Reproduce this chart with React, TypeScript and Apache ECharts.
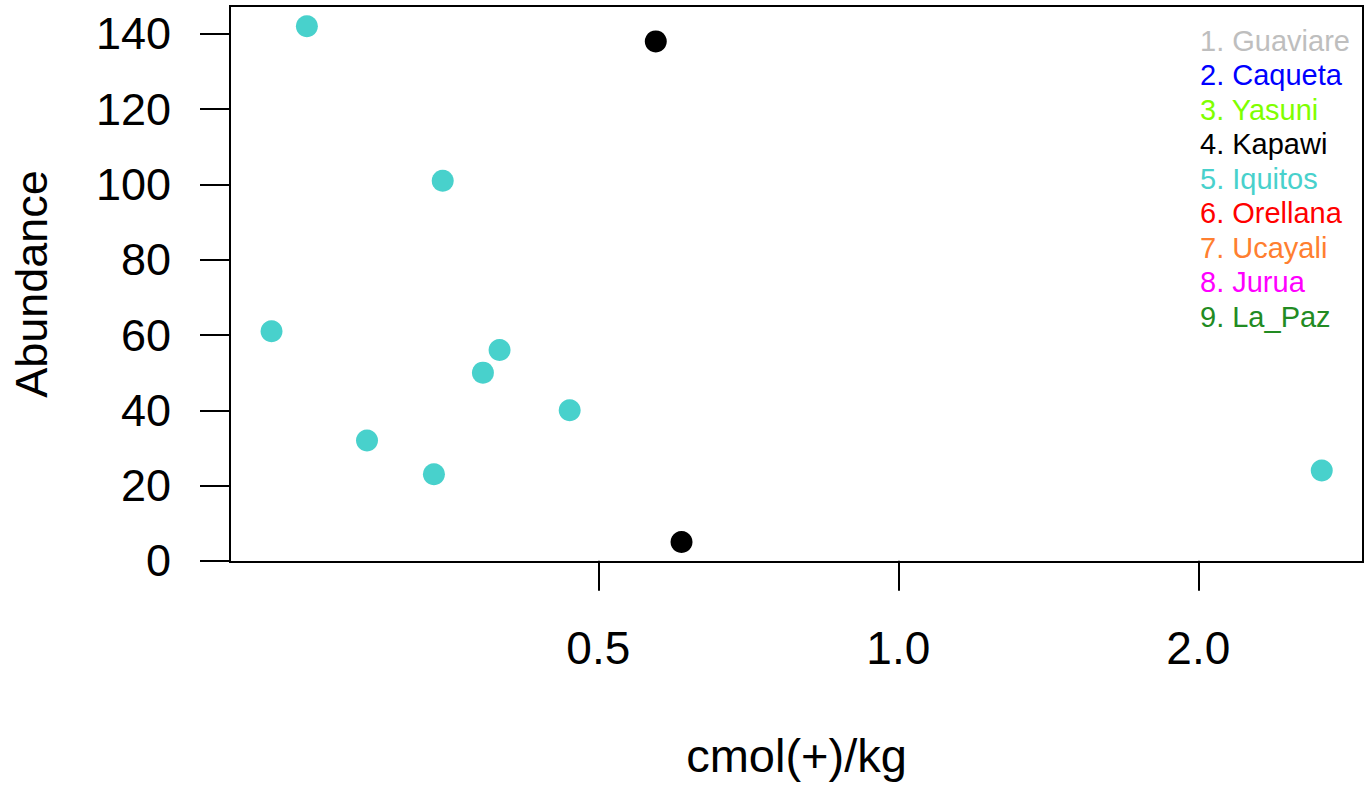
import React, { useEffect, useRef } from "react";
import * as echarts from "echarts";

// Data (x on log scale, cmol(+)/kg; y = Abundance)
const iquitosX = [0.255, 0.349, 0.235, 0.293, 0.342, 0.383, 0.398, 0.468, 2.66];
const iquitosY = [142, 101, 61, 32, 23, 50, 56, 40, 24];
const kapawiX = [0.571, 0.606];
const kapawiY = [138, 5];

const siteNames = [
  "1. Guaviare",
  "2. Caqueta",
  "3. Yasuni",
  "4. Kapawi",
  "5. Iquitos",
  "6. Orellana",
  "7. Ucayali",
  "8. Jurua",
  "9. La_Paz",
];
const siteColors = [
  "#BEBEBE",
  "#0000FF",
  "#7FFF00",
  "#000000",
  "#48D1CC",
  "#FF0000",
  "#FF7F30",
  "#FF00FF",
  "#228B22",
];

const xTicks = [0.5, 1, 2];
const yTicks = [0, 20, 40, 60, 80, 100, 120, 140];

const FONT = "'Liberation Sans', Arial, Helvetica, sans-serif";

export default function App() {
  const ref = useRef<HTMLDivElement>(null);
  useEffect(() => {
    if (!ref.current) return;
    const chart = echarts.init(ref.current, undefined, { renderer: "svg" });
    const pair = (xs: number[], ys: number[]) => xs.map((x, i) => [x, ys[i]]);
    chart.setOption({
      animation: false,
      backgroundColor: "#ffffff",
      grid: {
        left: 230,
        right: 9,
        top: 6,
        bottom: 232,
        show: true,
        borderColor: "#000000",
        borderWidth: 2,
        backgroundColor: "transparent",
      },
      xAxis: {
        type: "log",
        logBase: 2,
        min: 0.2135,
        max: 2.926,
        name: "cmol(+)/kg",
        nameLocation: "middle",
        nameGap: 170,
        nameTextStyle: { fontFamily: FONT, fontSize: 47, color: "#000" },
        axisLine: { show: false },
        splitLine: { show: false },
        minorTick: { show: false },
        axisTick: {
          show: true,
          inside: false,
          length: 30,
          customValues: xTicks,
          lineStyle: { color: "#000", width: 2 },
        },
        axisLabel: {
          customValues: xTicks,
          margin: 63,
          fontFamily: FONT,
          fontSize: 46,
          color: "#000",
          formatter: (v: number) => v.toFixed(1),
        },
      },
      yAxis: {
        type: "value",
        min: -0.3,
        max: 147.4,
        name: "Abundance",
        nameLocation: "middle",
        nameGap: 176,
        nameRotate: 90,
        nameTextStyle: { fontFamily: FONT, fontSize: 45, color: "#000" },
        axisLine: { show: false },
        splitLine: { show: false },
        axisTick: {
          show: true,
          inside: false,
          length: 30,
          customValues: yTicks,
          lineStyle: { color: "#000", width: 2 },
        },
        axisLabel: {
          customValues: yTicks,
          margin: 59,
          fontFamily: FONT,
          fontSize: 45,
          color: "#000",
        },
      },
      graphic: siteNames.map((name, i) => ({
        type: "text",
        left: 1200,
        top: 42 + i * 34.5 - 16,
        style: {
          text: name,
          fill: siteColors[i],
          font: `29px ${FONT}`,
        },
      })),
      series: [
        {
          name: "Iquitos",
          type: "scatter",
          symbol: "circle",
          symbolSize: 22,
          itemStyle: { color: siteColors[4], opacity: 1 },
          data: pair(iquitosX, iquitosY),
        },
        {
          name: "Kapawi",
          type: "scatter",
          symbol: "circle",
          symbolSize: 22,
          itemStyle: { color: siteColors[3], opacity: 1 },
          data: pair(kapawiX, kapawiY),
        },
      ],
    });
    return () => chart.dispose();
  }, []);
  return (
    <div
      ref={ref}
      style={{ position: "absolute", left: 0, top: 0, width: 1372, height: 794 }}
    />
  );
}
